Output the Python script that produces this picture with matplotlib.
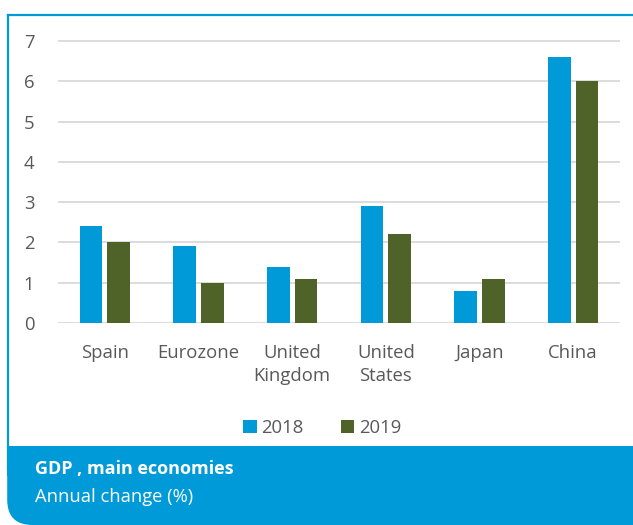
import matplotlib
matplotlib.use("Agg")
import matplotlib.pyplot as plt
from matplotlib.patches import FancyBboxPatch, Rectangle
from matplotlib.lines import Line2D
import numpy as np

categories = ["Spain", "Eurozone", "United\nKingdom", "United\nStates", "Japan", "China"]
series_names = ["2018", "2019"]
values_2018 = [2.4, 1.9, 1.4, 2.9, 0.8, 6.6]
values_2019 = [2.0, 1.0, 1.1, 2.2, 1.1, 6.0]
yticks = [0, 1, 2, 3, 4, 5, 6, 7]
title = "GDP , main economies"
subtitle = "Annual change (%)"

BLUE = "#009AD8"
GREEN = "#4F6228"
GRAY = "#595959"
W, H = 633, 525

plt.rcParams['font.family'] = ['Open Sans', 'DejaVu Sans']

fig = plt.figure(figsize=(W / 100, H / 100), dpi=100)
fig.patch.set_facecolor("white")

def fx(x):
    return x / W

def fy(y):
    return 1 - y / H

# frame lines (top and left)
fig.add_artist(Line2D([fx(8), fx(633)], [fy(15), fy(15)], color=BLUE, lw=1.6))
fig.add_artist(Line2D([fx(8), fx(8)], [fy(15), fy(470)], color=BLUE, lw=1.6))

# footer box with rounded bottom-left corner
r = 22
fig.add_artist(Rectangle((fx(7.2), fy(446 + 30)), fx(633 - 7.2) + 0.01, 30 / H,
                         transform=fig.transFigure, facecolor=BLUE, edgecolor="none"))
fig.add_artist(Rectangle((fx(40), fy(525)), 1, (H - 446) / H,
                         transform=fig.transFigure, facecolor=BLUE, edgecolor="none"))
fig.add_artist(FancyBboxPatch((fx(7.2), fy(525)), fx(633 - 7.2) + 0.05, (H - 446) / H,
                              boxstyle="round,pad=0,rounding_size=0.04",
                              transform=fig.transFigure, facecolor=BLUE, edgecolor="none",
                              mutation_aspect=W / H))

fig.text(fx(35), fy(469), title, color="white", fontsize=13, fontweight="bold", va="center", ha="left")
fig.text(fx(35), fy(497), subtitle, color="white", fontsize=13.2, va="center", ha="left")

# axes
left, right = 58, 620
y0 = 323
px_per_unit = (323 - 41) / 7
ymax = 7.25
top = y0 - ymax * px_per_unit
ax = fig.add_axes([fx(left), fy(y0), (right - left) / W, (y0 - top) / H])
ax.set_facecolor("none")

x = np.arange(len(categories))
bw = 0.245
gap = 0.05
ax.bar(x - (bw + gap) / 2, values_2018, width=bw, color=BLUE, label=series_names[0], zorder=3)
ax.bar(x + (bw + gap) / 2, values_2019, width=bw, color=GREEN, label=series_names[1], zorder=3)

ax.set_xlim(-0.5, len(categories) - 0.5)
ax.set_ylim(0, ymax)
ax.set_yticks(yticks)
ax.set_yticklabels([str(t) for t in yticks])
ax.set_xticks(x)
ax.set_xticklabels(categories, linespacing=1.4)
ax.tick_params(axis="both", length=0, colors=GRAY, labelsize=13.3)
ax.tick_params(axis="y", pad=17)
ax.tick_params(axis="x", pad=15)
ax.yaxis.grid(True, color="#D9D9D9", lw=1.3, zorder=0)
for s in ax.spines.values():
    s.set_visible(False)

leg = fig.legend(loc="center", bbox_to_anchor=(fx(322), fy(428)), ncol=2, frameon=False,
                 fontsize=13.3, handlelength=0.75, handleheight=0.75, handletextpad=0.25,
                 columnspacing=2.0, labelcolor=GRAY)

fig.savefig("out.png", dpi=100, facecolor="white")
